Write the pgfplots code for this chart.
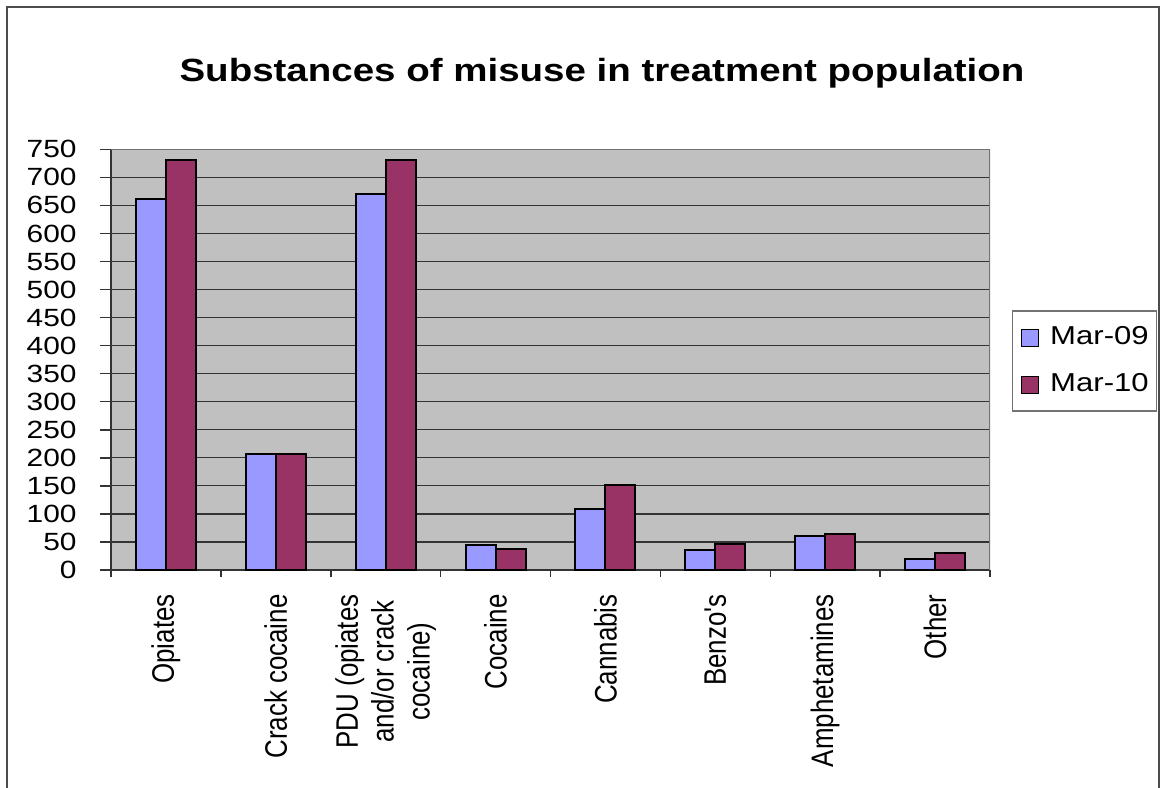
\documentclass[border=0pt]{standalone}
\usepackage{fontspec}
\setmainfont{Liberation Sans}
\usepackage{graphicx}
\usepackage{pgfplots}
\pgfplotsset{compat=1.18}
\definecolor{marnine}{RGB}{153,153,255}
\definecolor{marten}{RGB}{153,51,102}
\definecolor{plotbg}{RGB}{192,192,192}
\begin{document}
\begin{tikzpicture}[x=1bp,y=1bp]
\useasboundingbox (0,0) rectangle (580.5,393.5);
% chart frame
\draw[line width=1bp, black!70] (3.5,-5) -- (3.5,390) -- (579.5,390) -- (579.5,-5);
% title
\node[font=\fontsize{16.1}{19}\selectfont\bfseries, xscale=1.2] at (301,357)
  {Substances of misuse in treatment population};
\begin{axis}[
  at={(55.5bp,108.5bp)}, anchor=south west,
  scale only axis, width=439.5bp, height=210.35bp,
  ybar=0pt, bar width=15bp,
  xmin=-0.5, xmax=7.5, ymin=0, ymax=750,
  ytick={0,50,...,750},
  xtick={0,...,7},
  xticklabels={Opiates, Crack cocaine, {PDU (opiates\\and/or crack\\cocaine)}, Cocaine, Cannabis, Benzo\textquotesingle s, Amphetamines, Other},
  minor xtick={-0.5,0.5,...,7.5},
  major x tick style={draw=none},
  minor x tick style={draw=black!80, line width=0.75bp},
  ytick style={draw=black!80, line width=0.75bp},
  tick align=outside,
  major tick length=5.5bp,
  minor tick length=3.5bp,
  axis x line*=bottom, axis y line*=left,
  axis line style={black!80, line width=1bp},
  axis background/.style={fill=plotbg},
  ymajorgrids, major grid style={black!80, line width=0.6bp},
  /pgf/number format/assume math mode=true,
  yticklabel style={font=\fontsize{12.5}{14}\selectfont, inner sep=0pt, xscale=1.2},
  yticklabel shift=11.5bp,
  xticklabel style={font=\fontsize{13}{15}\selectfont, rotate=90, yscale=1.2, anchor=east, align=center, inner sep=0pt},
  xticklabel shift=6.5bp,
  legend style={at={(1.025,0.618)}, anchor=north west, draw=black!55, line width=0.75bp,
    font=\fontsize{13}{15}\selectfont, inner xsep=4bp, inner ysep=6bp, row sep=9bp,
    nodes={inner xsep=0bp},
    /tikz/every odd column/.append style={column sep=5.5bp}},
  legend cell align=left,
  legend image code/.code={\draw[#1, line width=0.75bp] (4bp,-4.5bp) rectangle (12.5bp,4bp);},
]
\addplot[fill=marnine, draw=black, line width=1bp] coordinates
  {(0,661) (1,206) (2,670) (3,45) (4,108) (5,35) (6,60) (7,20)};
\addlegendentry{\scalebox{1.2}[1]{Mar-09}}
\addplot[fill=marten, draw=black, line width=1bp] coordinates
  {(0,731) (1,206) (2,731) (3,38) (4,152) (5,46) (6,65) (7,31)};
\addlegendentry{\scalebox{1.2}[1]{Mar-10}}
% plot area border on the top and right
\draw[black!55, line width=1bp] (rel axis cs:0,1) -- (rel axis cs:1,1) -- (rel axis cs:1,0);
\end{axis}
\end{tikzpicture}
\end{document}
